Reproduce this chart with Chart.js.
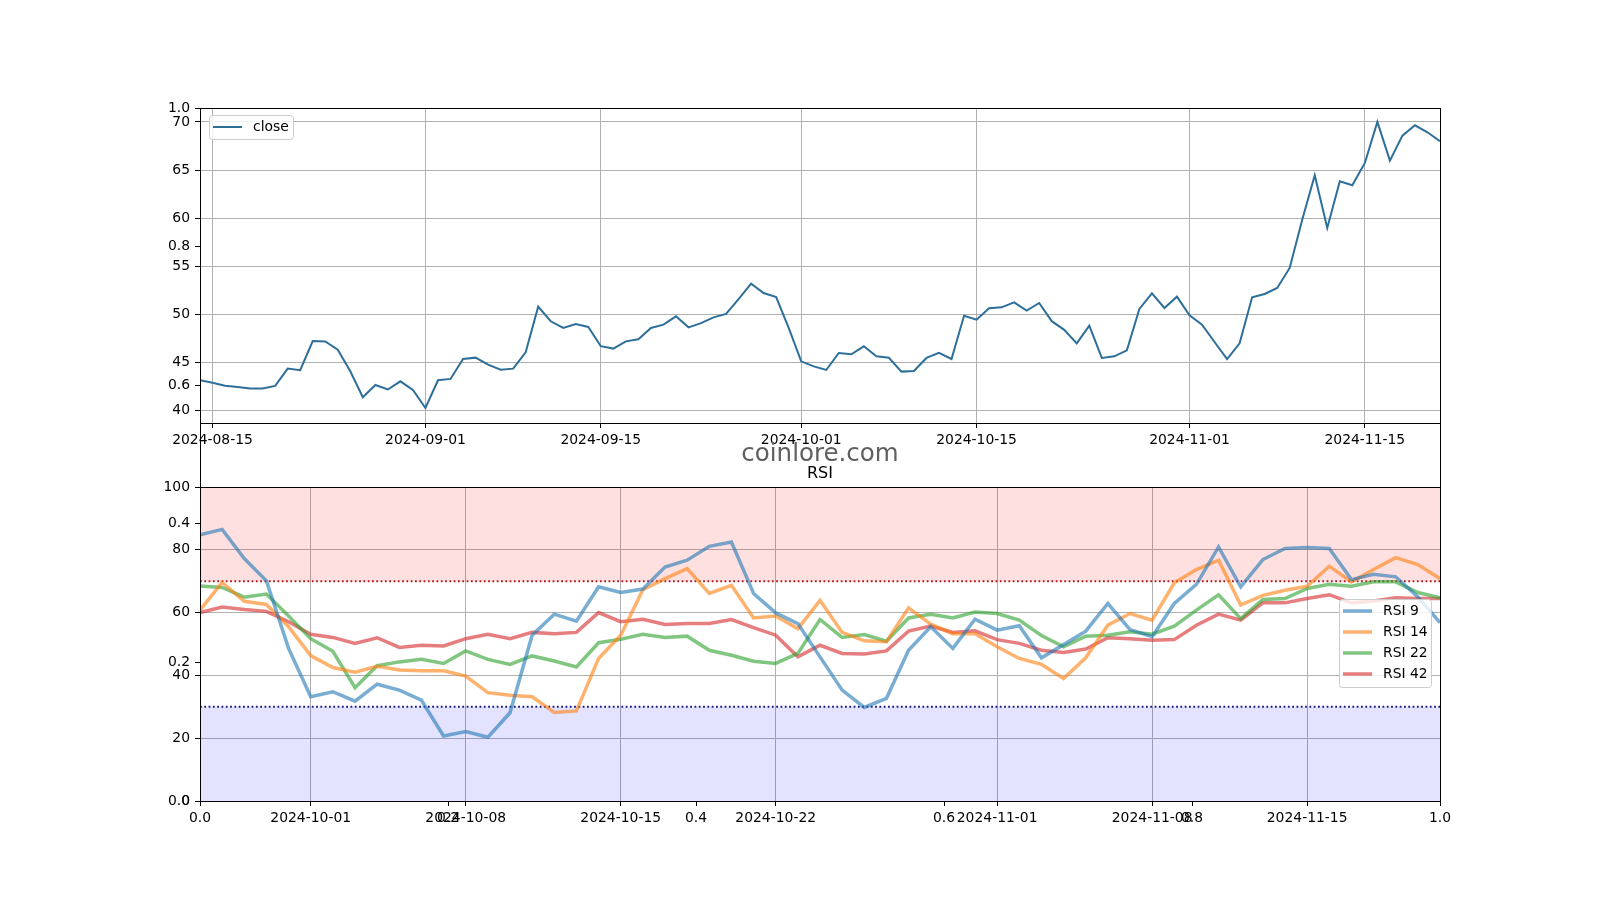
<!DOCTYPE html>
<html>
<head>
<meta charset="utf-8">
<script src="https://cdn.jsdelivr.net/npm/chart.js@4.4.1/dist/chart.umd.min.js"></script>
<style>
  body { margin: 0; background: #fff; }
  #wrap { position: relative; width: 1600px; height: 900px; }
  #wrap canvas { position: absolute; left: 0; top: 0; }
  #mark { position: absolute; left: 0; width: 1640px; top: 441px; text-align: center;
          font: 24.5px "DejaVu Sans"; line-height: 24.5px; color: #5f5f5f; }
</style>
</head>
<body>
<div id="wrap">
  <canvas id="bg" width="1600" height="900"></canvas>
  <canvas id="price" width="1600" height="900"></canvas>
  <canvas id="rsi" width="1600" height="900"></canvas>
  <div id="mark">coinlore.com</div>
</div>
<script>
// data
var priceStart = '2024-08-14';
var rsiStart = '2024-09-26';

var closeValues = [
  43.16, 42.9, 42.6, 42.46, 42.3, 42.3, 42.57, 44.37, 44.2, 47.24,
  47.2, 46.34, 44.1, 41.4, 42.67, 42.2, 43.05, 42.15, 40.28, 43.16,
  43.3, 45.37, 45.51, 44.78, 44.26, 44.37, 46.07, 50.81, 49.29, 48.6,
  49.0, 48.7, 46.7, 46.45, 47.2, 47.42, 48.6, 48.94, 49.8, 48.66,
  49.1, 49.7, 50.05, 51.6, 53.2, 52.23, 51.8, 48.6, 45.13, 44.6,
  44.23, 46.0, 45.86, 46.69, 45.65, 45.5, 44.06, 44.13, 45.48, 46.0,
  45.37, 49.87, 49.46, 50.64, 50.74, 51.26, 50.4, 51.19, 49.3, 48.4,
  47.0, 48.84, 45.48, 45.65, 46.27, 50.57, 52.2, 50.67, 51.85, 49.9,
  48.94, 47.14, 45.37, 47.0, 51.78, 52.13, 52.75, 54.83, 59.85, 64.46,
  58.98, 63.83, 63.42, 65.74, 70.0, 65.98, 68.58, 69.65, 68.93, 67.99
];

var rsi9 = [
  84.8, 86.5, 77.2, 70.1, 48.6, 33.2, 34.8, 31.8, 37.2, 35.3, 32.1, 20.7, 22.1, 20.3, 28.1, 52.8, 59.5, 57.3, 68.2,
  66.4, 67.5, 74.5, 76.7, 81.1, 82.5, 66.1, 59.9, 56.5, 45.9, 35.3, 29.8, 32.7, 48.0, 55.5, 48.6, 57.9, 54.4, 55.8,
  45.6, 49.8, 54.1, 62.9, 54.6, 52.3, 62.9, 69.0, 80.9, 68.2, 76.9, 80.4, 80.7, 80.4, 70.5, 72.2, 71.4, 65.0, 56.8
];
var rsi14 = [
  60.8, 69.6, 63.6, 62.6, 55.5, 46.3, 42.5, 41.0, 42.9, 41.7, 41.5, 41.5, 39.8, 34.5, 33.7, 33.2, 28.2, 28.7, 45.4,
  52.8, 67.3, 70.8, 74.0, 66.1, 68.7, 58.3, 58.9, 54.9, 63.9, 53.7, 51.0, 50.7, 61.5, 56.3, 53.3, 53.3, 49.1, 45.4,
  43.5, 39.0, 45.6, 56.0, 59.7, 57.6, 69.5, 73.7, 76.7, 62.4, 65.5, 67.1, 68.4, 74.8, 69.8, 73.7, 77.5, 75.3, 70.8
];
var rsi22 = [
  68.5, 68.0, 64.9, 65.9, 58.9, 51.7, 47.7, 36.1, 43.1, 44.3, 45.1, 43.8, 47.8, 45.1, 43.5, 46.2, 44.6, 42.7, 50.4,
  51.5, 53.1, 52.1, 52.5, 48.0, 46.4, 44.5, 43.8, 47.0, 57.8, 52.1, 53.0, 50.9, 58.3, 59.5, 58.3, 60.2, 59.7, 57.6,
  52.7, 49.1, 52.5, 52.8, 53.9, 53.1, 55.7, 60.8, 65.7, 58.1, 64.2, 64.5, 67.7, 69.0, 68.4, 69.8, 69.8, 66.4, 64.7
];
var rsi42 = [
  60.0, 61.8, 61.0, 60.4, 57.1, 53.1, 52.1, 50.2, 52.0, 48.9, 49.6, 49.4, 51.7, 53.1, 51.7, 53.7, 53.3, 53.7, 60.0,
  57.1, 57.9, 56.2, 56.5, 56.5, 57.8, 55.2, 52.8, 45.9, 49.6, 47.0, 46.8, 47.8, 54.1, 55.7, 53.7, 54.2, 51.4, 50.2,
  48.0, 47.3, 48.4, 52.0, 51.7, 51.2, 51.4, 56.0, 59.5, 57.6, 63.1, 63.1, 64.5, 65.7, 63.1, 63.7, 64.7, 64.5, 64.5
];

var priceTickLabels = ['2024-08-15', '2024-09-01', '2024-09-15', '2024-10-01', '2024-10-15', '2024-11-01', '2024-11-15'];
var rsiTickLabels = ['2024-10-01', '2024-10-08', '2024-10-15', '2024-10-22', '2024-11-01', '2024-11-08', '2024-11-15'];
var priceYTicks = [40, 45, 50, 55, 60, 65, 70];
var rsiYTicks = [0, 20, 40, 60, 80, 100];
var fracTicks = [0, 0.2, 0.4, 0.6, 0.8, 1.0];
var overbought = 70, oversold = 30;

// helpers
function dayOf(s) { return Math.round((Date.parse(s) - Date.parse(priceStart)) / 864e5); }
function dateOf(d) { return new Date(Date.parse(priceStart) + d * 864e5).toISOString().slice(0, 10); }
function series(values, start) {
  var s = dayOf(start);
  return values.map(function (v, i) { return {x: s + i, y: v}; });
}

Chart.defaults.font.family = '"DejaVu Sans"';
Chart.defaults.font.size = 13.9;
Chart.defaults.color = '#000';

function xAxis(min, max, ticks, fmt, onArea) {
  return {
    type: 'linear', position: 'bottom', min: min, max: max,
    afterBuildTicks: function (s) { s.ticks = ticks.map(function (v) { return {value: v}; }); },
    afterFit: function (s) { s.height = 40; },
    grid: {display: true, drawOnChartArea: onArea, color: '#b0b0b0', lineWidth: 1,
           tickLength: 5, tickColor: '#000', tickWidth: 1},
    border: {display: false},
    ticks: {autoSkip: false, maxRotation: 0, minRotation: 0, padding: 4, callback: fmt}
  };
}
function yAxis(min, max, ticks, fmt, onArea) {
  return {
    type: 'linear', position: 'left', min: min, max: max,
    afterBuildTicks: function (s) { s.ticks = ticks.map(function (v) { return {value: v}; }); },
    afterFit: function (s) { s.width = 60; },
    grid: {display: true, drawOnChartArea: onArea, color: '#b0b0b0', lineWidth: 1,
           tickLength: 5, tickColor: '#000', tickWidth: 1},
    border: {display: false},
    ticks: {autoSkip: false, padding: 5, callback: fmt}
  };
}

// axes frame (all four spines)
var frame = {
  id: 'frame',
  afterDatasetsDraw: function (chart) {
    var a = chart.chartArea, c = chart.ctx;
    c.save();
    c.strokeStyle = '#000';
    c.lineWidth = 1;
    c.strokeRect(Math.round(a.left) + 0.5, Math.round(a.top) + 0.5,
                 Math.round(a.right) - Math.round(a.left), Math.round(a.bottom) - Math.round(a.top));
    c.restore();
  }
};

// axes title centred over the plot area
var axTitle = {
  id: 'axTitle',
  afterDraw: function (chart, args, o) {
    if (!o || !o.text) return;
    var a = chart.chartArea, c = chart.ctx;
    c.save();
    c.fillStyle = '#000';
    c.font = '16px "DejaVu Sans"';
    c.textAlign = 'center';
    c.textBaseline = 'alphabetic';
    c.fillText(o.text, (a.left + a.right) / 2, a.top - 9);
    c.restore();
  }
};

// matplotlib-like legend box
var boxLegend = {
  id: 'boxLegend',
  afterDatasetsDraw: function (chart, args, o) {
    if (!o || o.x === undefined) return;
    var items = chart.data.datasets.filter(function (d) { return d.inLegend; });
    var c = chart.ctx;
    c.save();
    c.fillStyle = 'rgba(255,255,255,0.8)';
    c.strokeStyle = '#cccccc';
    c.lineWidth = 1;
    c.beginPath();
    c.roundRect(o.x + 0.5, o.y + 0.5, o.w, o.h, 3);
    c.fill();
    c.stroke();
    items.forEach(function (d, k) {
      var y = o.y + o.first + k * o.rowH;
      c.strokeStyle = d.borderColor;
      c.lineWidth = d.borderWidth;
      c.beginPath();
      c.moveTo(o.x + 4, y);
      c.lineTo(o.x + 33, y);
      c.stroke();
      c.fillStyle = '#000';
      c.font = '13.9px "DejaVu Sans"';
      c.textBaseline = 'middle';
      c.fillText(d.label, o.x + 44, y);
    });
    c.restore();
  }
};

var frac = function (v) { return v.toFixed(1); };
var plain = function (v) { return String(v); };

// background 0..1 axes spanning both panels
new Chart(document.getElementById('bg'), {
  type: 'line',
  data: {datasets: []},
  options: {
    responsive: false, animation: false, devicePixelRatio: 1,
    layout: {padding: {left: 140, right: 160, top: 108, bottom: 900 - 801 - 40}},
    plugins: {legend: {display: false}, tooltip: {enabled: false}},
    scales: {
      x: xAxis(0, 1, fracTicks, frac, false),
      y: yAxis(0, 1, fracTicks, frac, false)
    }
  },
  plugins: [frame]
});

// price panel
new Chart(document.getElementById('price'), {
  type: 'line',
  data: {
    datasets: [{
      label: 'close', inLegend: true,
      data: series(closeValues, priceStart),
      borderColor: '#2e6f9a', borderWidth: 2, pointRadius: 0, tension: 0, fill: false
    }]
  },
  options: {
    responsive: false, animation: false, devicePixelRatio: 1,
    layout: {padding: {left: 140, right: 160, top: 108, bottom: 900 - 423 - 40}},
    plugins: {
      legend: {display: false}, tooltip: {enabled: false},
      boxLegend: {x: 209, y: 115, w: 84, h: 24, first: 12, rowH: 21}
    },
    scales: {
      x: xAxis(0, closeValues.length - 1, priceTickLabels.map(dayOf), dateOf, true),
      y: yAxis(38.72, 71.45, priceYTicks, plain, true)
    }
  },
  plugins: [frame, boxLegend]
});

// RSI panel
var rsiFirst = dayOf(rsiStart), rsiLast = rsiFirst + rsi9.length - 1;
function level(v) { return [{x: rsiFirst, y: v}, {x: rsiLast, y: v}]; }

new Chart(document.getElementById('rsi'), {
  type: 'line',
  data: {
    datasets: [
      {label: 'overbought', data: level(overbought), fill: 'end', order: 5,
       backgroundColor: 'rgba(255,0,0,0.12)', borderColor: '#b81822', borderWidth: 2,
       borderDash: [1.8, 2.5], pointRadius: 0},
      {label: 'oversold', data: level(oversold), fill: 'start', order: 5,
       backgroundColor: 'rgba(0,0,255,0.11)', borderColor: '#1a1a88', borderWidth: 2,
       borderDash: [1.8, 2.5], pointRadius: 0},
      {label: 'RSI 9', inLegend: true, data: series(rsi9, rsiStart),
       borderColor: 'rgba(31,119,180,0.6)', borderWidth: 3.5, pointRadius: 0, tension: 0},
      {label: 'RSI 14', inLegend: true, data: series(rsi14, rsiStart),
       borderColor: 'rgba(255,127,14,0.6)', borderWidth: 3.5, pointRadius: 0, tension: 0},
      {label: 'RSI 22', inLegend: true, data: series(rsi22, rsiStart),
       borderColor: 'rgba(44,160,44,0.6)', borderWidth: 3.5, pointRadius: 0, tension: 0},
      {label: 'RSI 42', inLegend: true, data: series(rsi42, rsiStart),
       borderColor: 'rgba(214,39,40,0.6)', borderWidth: 3.5, pointRadius: 0, tension: 0}
    ]
  },
  options: {
    responsive: false, animation: false, devicePixelRatio: 1,
    layout: {padding: {left: 140, right: 160, top: 487, bottom: 900 - 801 - 40}},
    plugins: {
      legend: {display: false}, tooltip: {enabled: false},
      axTitle: {text: 'RSI'},
      boxLegend: {x: 1339, y: 599, w: 92, h: 88, first: 12, rowH: 21}
    },
    scales: {
      x: xAxis(rsiFirst, rsiLast, rsiTickLabels.map(dayOf), dateOf, true),
      y: yAxis(0, 100, rsiYTicks, plain, true)
    }
  },
  plugins: [frame, axTitle, boxLegend]
});
</script>
</body>
</html>
